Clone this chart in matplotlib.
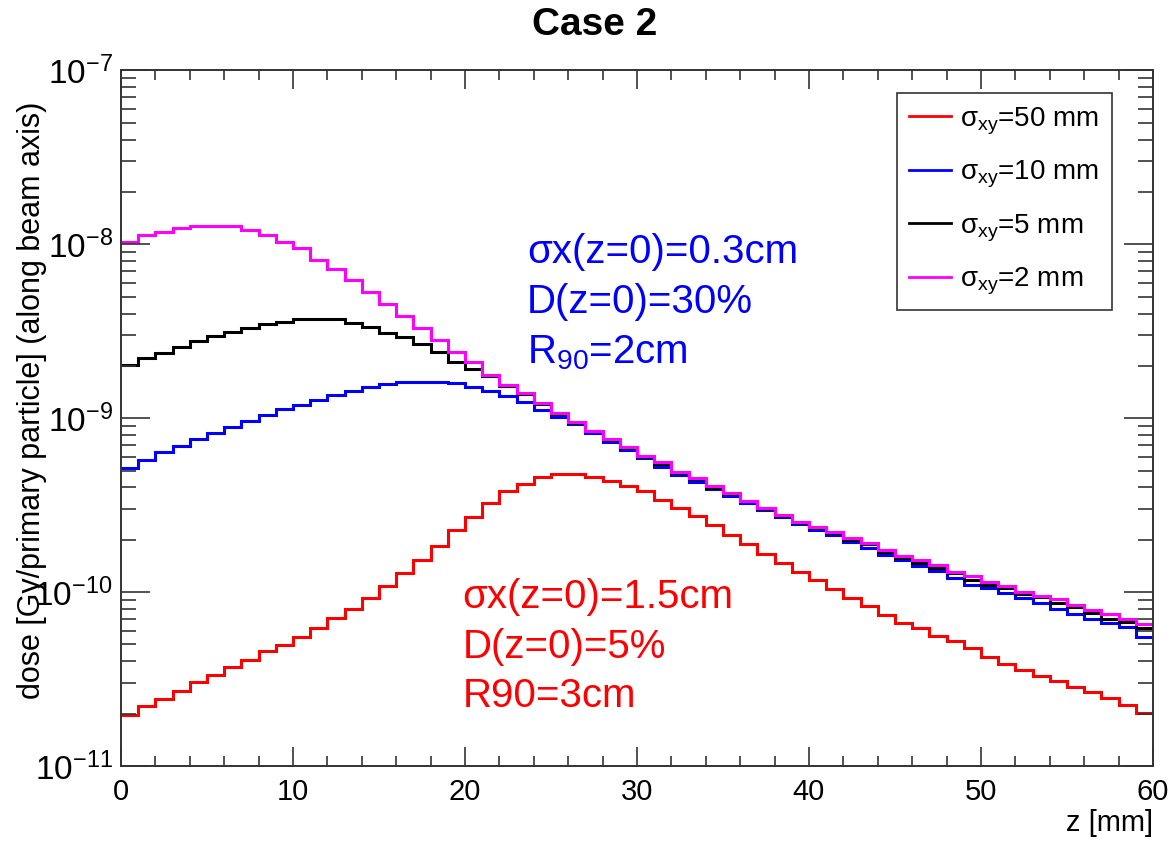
import matplotlib.pyplot as plt
import numpy as np
from matplotlib.ticker import LogLocator, MultipleLocator, NullFormatter

plt.rcParams['font.family'] = ['Liberation Sans', 'DejaVu Sans']
plt.rcParams['mathtext.fontset'] = 'custom'
plt.rcParams['mathtext.rm'] = 'Liberation Sans'
plt.rcParams['mathtext.it'] = 'Liberation Sans:italic'
plt.rcParams['mathtext.default'] = 'regular'

# 1 mm bins along z
z_edges = np.arange(0, 61, 1)

# dose per bin, sigma_xy = 50 mm
dose_50 = [1.97e-11, 2.20e-11, 2.44e-11, 2.71e-11, 3.04e-11, 3.35e-11, 3.71e-11, 4.08e-11, 4.56e-11, 4.98e-11,
           5.53e-11, 6.21e-11, 7.09e-11, 8.02e-11, 9.24e-11, 1.087e-10, 1.285e-10, 1.53e-10, 1.85e-10, 2.28e-10,
           2.72e-10, 3.24e-10, 3.82e-10, 4.18e-10, 4.62e-10, 4.77e-10, 4.77e-10, 4.62e-10, 4.37e-10, 4.08e-10,
           3.80e-10, 3.39e-10, 3.04e-10, 2.74e-10, 2.44e-10, 2.14e-10, 1.89e-10, 1.66e-10, 1.47e-10, 1.30e-10,
           1.18e-10, 1.04e-10, 9.24e-11, 8.34e-11, 7.41e-11, 6.68e-11, 6.21e-11, 5.61e-11, 5.20e-11, 4.76e-11,
           4.26e-11, 3.87e-11, 3.57e-11, 3.30e-11, 3.10e-11, 2.83e-11, 2.65e-11, 2.46e-11, 2.25e-11, 2.02e-11]

# sigma_xy = 10 mm
dose_10 = [5.16e-10, 5.76e-10, 6.38e-10, 6.94e-10, 7.58e-10, 8.20e-10, 8.95e-10, 9.66e-10, 1.045e-9, 1.13e-9,
           1.19e-9, 1.27e-9, 1.36e-9, 1.44e-9, 1.51e-9, 1.57e-9, 1.62e-9, 1.62e-9, 1.62e-9, 1.59e-9,
           1.52e-9, 1.44e-9, 1.34e-9, 1.24e-9, 1.12e-9, 1.02e-9, 9.27e-10, 8.26e-10, 7.34e-10, 6.58e-10,
           5.89e-10, 5.27e-10, 4.72e-10, 4.32e-10, 3.90e-10, 3.57e-10, 3.27e-10, 2.97e-10, 2.72e-10, 2.47e-10,
           2.28e-10, 2.13e-10, 1.95e-10, 1.79e-10, 1.64e-10, 1.52e-10, 1.42e-10, 1.33e-10, 1.21e-10, 1.10e-10,
           1.05e-10, 9.86e-11, 9.24e-11, 8.65e-11, 7.98e-11, 7.48e-11, 6.99e-11, 6.68e-11, 6.34e-11, 5.51e-11]

# sigma_xy = 5 mm
dose_5 = [2.02e-9, 2.21e-9, 2.38e-9, 2.58e-9, 2.78e-9, 2.98e-9, 3.15e-9, 3.32e-9, 3.47e-9, 3.57e-9,
          3.71e-9, 3.71e-9, 3.71e-9, 3.52e-9, 3.36e-9, 3.10e-9, 2.94e-9, 2.66e-9, 2.41e-9, 2.10e-9,
          1.92e-9, 1.74e-9, 1.53e-9, 1.37e-9, 1.20e-9, 1.06e-9, 9.4e-10, 8.4e-10, 7.5e-10, 6.75e-10,
          6.0e-10, 5.45e-10, 4.85e-10, 4.45e-10, 3.97e-10, 3.66e-10, 3.32e-10, 3.0e-10, 2.74e-10, 2.5e-10,
          2.35e-10, 2.18e-10, 2.0e-10, 1.9e-10, 1.7e-10, 1.58e-10, 1.48e-10, 1.38e-10, 1.28e-10, 1.18e-10,
          1.1e-10, 1.05e-10, 9.8e-11, 9.4e-11, 8.7e-11, 8.2e-11, 7.6e-11, 7.0e-11, 6.7e-11, 6.2e-11]

# sigma_xy = 2 mm
dose_2 = [1.035e-8, 1.13e-8, 1.18e-8, 1.24e-8, 1.28e-8, 1.28e-8, 1.28e-8, 1.21e-8, 1.13e-8, 1.035e-8,
          9.5e-9, 8.12e-9, 7.18e-9, 6.23e-9, 5.35e-9, 4.54e-9, 3.87e-9, 3.29e-9, 2.82e-9, 2.41e-9,
          2.1e-9, 1.77e-9, 1.55e-9, 1.39e-9, 1.22e-9, 1.07e-9, 9.56e-10, 8.48e-10, 7.6e-10, 6.81e-10,
          6.1e-10, 5.6e-10, 4.93e-10, 4.52e-10, 4.05e-10, 3.71e-10, 3.36e-10, 3.03e-10, 2.78e-10, 2.54e-10,
          2.38e-10, 2.23e-10, 2.04e-10, 1.91e-10, 1.75e-10, 1.62e-10, 1.53e-10, 1.44e-10, 1.31e-10, 1.23e-10,
          1.14e-10, 1.087e-10, 1.007e-10, 9.52e-11, 9.12e-11, 8.45e-11, 7.91e-11, 7.5e-11, 6.99e-11, 6.54e-11]

labels = ['σ$_{xy}$=50 mm', 'σ$_{xy}$=10 mm', 'σ$_{xy}$=5 mm', 'σ$_{xy}$=2 mm']
colors = ['#ff0000', '#0000ff', '#000000', '#ff00ff']

fig = plt.figure(figsize=(11.71, 8.41), dpi=100)
ax = fig.add_axes([0.1033, 0.0892, 0.8813, 0.8270])

for vals, lab, col in zip([dose_50, dose_10, dose_5, dose_2], labels, colors):
    ax.stairs(vals, z_edges, baseline=None, color=col, lw=2.2, label=lab)

ax.set_yscale('log')
ax.set_xlim(0, 60)
ax.set_ylim(1e-11, 1e-7)

ax.xaxis.set_major_locator(MultipleLocator(10))
ax.xaxis.set_minor_locator(MultipleLocator(2))
ax.yaxis.set_major_locator(LogLocator(base=10, numticks=10))
ax.yaxis.set_minor_locator(LogLocator(base=10, subs=np.arange(2, 10), numticks=20))
ax.yaxis.set_minor_formatter(NullFormatter())

ax.tick_params(which='both', direction='in', top=True, right=True, color='#333333', width=1.2)
ax.tick_params(axis='x', which='major', length=14, labelsize=21, pad=9)
ax.tick_params(axis='x', which='minor', length=7)
ax.tick_params(axis='y', which='major', length=21, labelsize=24, pad=6)
ax.tick_params(axis='y', which='minor', length=11)
for s in ax.spines.values():
    s.set_linewidth(1.4)
    s.set_color('#333333')

leg = ax.legend(loc='upper right', bbox_to_anchor=(0.960, 0.968), borderaxespad=0,
                fontsize=20, frameon=True, fancybox=False, edgecolor='black',
                handlelength=1.5, handletextpad=0.35, labelspacing=0.8, borderpad=0.45)
leg.get_frame().set_linewidth(1.2)
for h in leg.get_lines():
    h.set_linewidth(2.0)

fig.text(0.508, 0.970, 'Case 2', ha='center', va='center', fontsize=28, fontweight='bold')
fig.text(0.9846, 0.0214, 'z [mm]', ha='right', va='center', fontsize=21)
fig.text(0.027, 0.524, 'dose [Gy/primary particle] (along beam axis)', rotation=90,
         ha='center', va='center', fontsize=22)

# annotations
fig.text(0.450, 0.700, 'σx(z=0)=0.3cm', color='#0000ff', fontsize=29, va='center')
fig.text(0.450, 0.641, 'D(z=0)=30%', color='#0000ff', fontsize=29, va='center')
fig.text(0.450, 0.581, 'R$_{90}$=2cm', color='#0000ff', fontsize=29, va='center')
fig.text(0.395, 0.290, 'σx(z=0)=1.5cm', color='#ff0000', fontsize=29, va='center')
fig.text(0.395, 0.231, 'D(z=0)=5%', color='#ff0000', fontsize=29, va='center')
fig.text(0.395, 0.173, 'R90=3cm', color='#ff0000', fontsize=29, va='center')

plt.savefig('out.png', dpi=100)
plt.close()
